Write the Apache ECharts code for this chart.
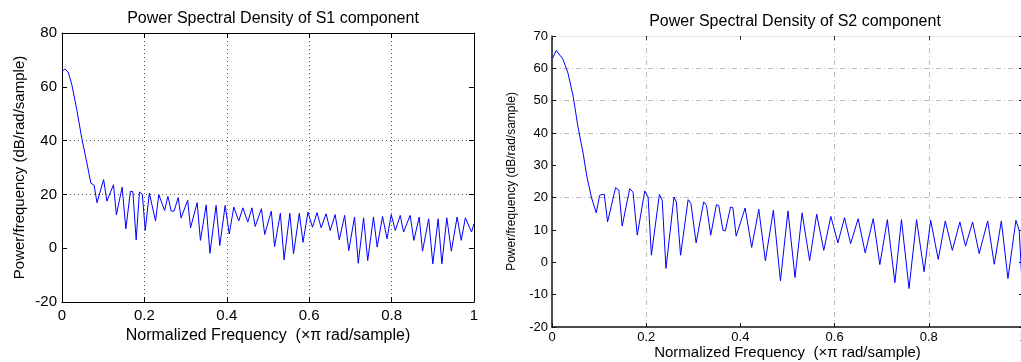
<!DOCTYPE html>
<html>
<head>
<meta charset="utf-8">
<script src="https://cdn.jsdelivr.net/npm/echarts@6/dist/echarts.min.js"></script>
<style>
html,body{margin:0;padding:0;background:#fff;}
#c{width:1021px;height:362px;}
</style>
</head>
<body>
<div id="c"></div>
<script>
// ---- data ----
const titles = ['Power Spectral Density of S1 component', 'Power Spectral Density of S2 component'];
const xName = 'Normalized Frequency  (\u00d7\u03c0 rad/sample)';
const yName = 'Power/frequency (dB/rad/sample)';

const s1Freq = [0, 0.007, 0.015, 0.024, 0.036, 0.048, 0.060, 0.070, 0.078, 0.085, 0.101, 0.109, 0.125, 0.132, 0.146, 0.155, 0.166, 0.172, 0.180, 0.188, 0.195, 0.202, 0.212, 0.227, 0.235, 0.249, 0.257, 0.265, 0.272, 0.282, 0.289, 0.305, 0.312, 0.328, 0.336, 0.350, 0.359, 0.374, 0.383, 0.396, 0.406, 0.417, 0.429, 0.439, 0.451, 0.461, 0.469, 0.484, 0.492, 0.508, 0.516, 0.530, 0.539, 0.553, 0.562, 0.576, 0.585, 0.597, 0.608, 0.619, 0.629, 0.641, 0.651, 0.663, 0.673, 0.686, 0.696, 0.710, 0.719, 0.732, 0.742, 0.756, 0.765, 0.778, 0.789, 0.799, 0.809, 0.821, 0.829, 0.845, 0.854, 0.867, 0.875, 0.890, 0.900, 0.913, 0.922, 0.934, 0.945, 0.959, 0.969, 0.979, 0.994, 1.0];
const s1Power = [65.6, 66.6, 65.5, 60.7, 51.4, 40.9, 32.0, 24.2, 23.4, 16.9, 25.5, 17.5, 23.6, 12.4, 22.7, 7.2, 21.2, 21.0, 3.1, 20.9, 20.0, 6.6, 20.5, 10.1, 19.9, 14.0, 19.3, 13.8, 13.8, 18.8, 11.2, 17.8, 7.6, 16.9, 2.9, 16.1, -1.9, 15.9, 1.0, 15.9, 5.3, 15.3, 10.1, 15.0, 9.7, 15.0, 8.1, 14.7, 5.1, 13.8, 0.6, 13.0, -4.3, 13.0, -2.1, 13.0, 2.2, 13.4, 7.8, 13.2, 7.6, 12.8, 6.6, 12.5, 3.1, 12.2, -0.9, 11.6, -5.6, 11.3, -4.6, 11.6, 0.4, 11.8, 3.5, 12.5, 6.6, 12.2, 6.0, 12.2, 2.9, 11.6, -1.1, 10.9, -5.8, 10.9, -5.8, 11.3, -1.1, 11.6, 2.9, 11.3, 6.0, 9.1];

const s2Freq = [0.001, 0.009, 0.023, 0.034, 0.045, 0.055, 0.066, 0.074, 0.084, 0.094, 0.101, 0.106, 0.111, 0.118, 0.135, 0.142, 0.149, 0.165, 0.172, 0.181, 0.197, 0.204, 0.211, 0.228, 0.234, 0.242, 0.259, 0.264, 0.273, 0.289, 0.295, 0.306, 0.322, 0.328, 0.337, 0.349, 0.354, 0.363, 0.368, 0.379, 0.384, 0.391, 0.410, 0.424, 0.439, 0.453, 0.470, 0.485, 0.501, 0.516, 0.531, 0.547, 0.562, 0.577, 0.592, 0.607, 0.621, 0.634, 0.650, 0.665, 0.682, 0.696, 0.712, 0.728, 0.742, 0.758, 0.774, 0.790, 0.804, 0.820, 0.835, 0.850, 0.866, 0.878, 0.893, 0.907, 0.925, 0.939, 0.954, 0.968, 0.985, 0.992, 0.997];
const s2Power = [63.1, 65.5, 62.9, 58.5, 51.3, 42.0, 33.8, 26.6, 19.9, 15.3, 20.7, 21.0, 21.0, 12.5, 23.1, 22.3, 11.2, 22.8, 21.7, 8.4, 22.1, 20.2, 2.2, 21.0, 19.2, -1.9, 20.2, 18.7, 2.2, 19.4, 18.2, 6.0, 18.7, 17.6, 8.4, 17.8, 17.6, 9.9, 9.7, 17.1, 16.9, 8.1, 16.8, 4.6, 16.4, 0.5, 16.1, -5.7, 15.9, -4.7, 15.3, 0.5, 14.9, 3.7, 14.2, 6.0, 13.8, 5.8, 13.5, 2.9, 13.5, -0.7, 13.2, -6.3, 13.2, -8.1, 13.2, -2.9, 13.0, 0.9, 12.8, 3.7, 12.5, 5.0, 12.5, 2.7, 12.8, -0.6, 12.8, -5.0, 13.0, 9.9, -4.0];

const xTicks = { min: 0, max: 1, interval: 0.2 };
const y1Ticks = { min: -20, max: 80, interval: 20 };
const y2Ticks = { min: -20, max: 70, interval: 10 };

// ---- styling ----
const FONT = 'Liberation Sans, Arial, Helvetica, sans-serif';
const T = 'rgba(0,0,0,0)';
const g1 = '#555';
const g2 = '#bdbdbd';

function pairs(xs, ys) { return xs.map((x, i) => [x, ys[i]]); }

const chart = echarts.init(document.getElementById('c'), null, { renderer: 'canvas' });

const option = {
  backgroundColor: '#fff',
  animation: false,
  title: [
    { text: titles[0], left: 268, top: 6, textAlign: 'center',
      textStyle: { fontFamily: FONT, fontSize: 16, fontWeight: 'normal', color: '#000' } },
    { text: titles[1], left: 790, top: 9, textAlign: 'center',
      textStyle: { fontFamily: FONT, fontSize: 16, fontWeight: 'normal', color: '#000' } }
  ],
  grid: [
    { left: 62, top: 33, width: 412, height: 269, containLabel: false, outerBoundsMode: 'none' },
    { left: 552, top: 36, width: 471, height: 291, containLabel: false, outerBoundsMode: 'none' }
  ],
  xAxis: [
    { type: 'value', gridIndex: 0, position: 'bottom', min: xTicks.min, max: xTicks.max, interval: xTicks.interval,
      name: xName, nameLocation: 'middle', nameGap: 25,
      nameTextStyle: { fontFamily: FONT, fontSize: 16, color: '#000' },
      axisLine: { show: true, onZero: false, lineStyle: { color: '#000', width: 1 } },
      axisTick: { show: true, inside: true, length: 5, lineStyle: { color: '#000' } },
      axisLabel: { fontFamily: FONT, fontSize: 15, color: '#000', margin: 6 },
      splitLine: { show: true, lineStyle: { color: [T, g1, g1, g1, g1, T], type: [1, 3], width: 1 } } },
    { type: 'value', gridIndex: 0, position: 'top', min: xTicks.min, max: xTicks.max, interval: xTicks.interval,
      axisLine: { show: true, onZero: false, lineStyle: { color: '#000', width: 1 } },
      axisTick: { show: true, inside: true, length: 5, lineStyle: { color: '#000' } },
      axisLabel: { show: false }, splitLine: { show: false } },
    { type: 'value', gridIndex: 1, position: 'bottom', min: xTicks.min, max: xTicks.max, interval: xTicks.interval,
      name: xName, nameLocation: 'middle', nameGap: 18, nameMoveOverlap: false,
      nameTextStyle: { fontFamily: FONT, fontSize: 15, color: '#000' },
      axisLine: { show: true, onZero: false, lineStyle: { color: '#111', width: 1.5 } },
      axisTick: { show: true, inside: true, length: 4, lineStyle: { color: '#111' } },
      axisLabel: { fontFamily: FONT, fontSize: 13, color: '#000', margin: 4 },
      splitLine: { show: true, lineStyle: { color: [T, g2, T, g2, g2, T], type: [5, 3, 1, 3], width: 1 } } },
    { type: 'value', gridIndex: 1, position: 'top', min: xTicks.min, max: xTicks.max, interval: xTicks.interval,
      axisLine: { show: true, onZero: false, lineStyle: { color: '#e6e6e6', width: 1 } },
      axisTick: { show: true, inside: true, length: 4, lineStyle: { color: '#333' } },
      axisLabel: { show: false }, splitLine: { show: false } }
  ],
  yAxis: [
    { type: 'value', gridIndex: 0, position: 'left', min: y1Ticks.min, max: y1Ticks.max, interval: y1Ticks.interval,
      name: yName, nameLocation: 'middle', nameGap: 35, nameRotate: 90,
      nameTextStyle: { fontFamily: FONT, fontSize: 15, color: '#000' },
      axisLine: { show: true, onZero: false, lineStyle: { color: '#000', width: 1 } },
      axisTick: { show: true, inside: true, length: 5, lineStyle: { color: '#000' } },
      axisLabel: { fontFamily: FONT, fontSize: 15, color: '#000', margin: 5 },
      splitLine: { show: true, lineStyle: { color: [T, T, g1, g1, T, T], type: [1, 3], width: 1 } } },
    { type: 'value', gridIndex: 0, position: 'right', min: y1Ticks.min, max: y1Ticks.max, interval: y1Ticks.interval,
      axisLine: { show: true, onZero: false, lineStyle: { color: '#000', width: 1 } },
      axisTick: { show: true, inside: true, length: 5, lineStyle: { color: '#000' } },
      axisLabel: { show: false }, splitLine: { show: false } },
    { type: 'value', gridIndex: 1, position: 'left', min: y2Ticks.min, max: y2Ticks.max, interval: y2Ticks.interval,
      name: yName, nameLocation: 'middle', nameGap: 34, nameRotate: 90,
      nameTextStyle: { fontFamily: FONT, fontSize: 12, color: '#000' },
      axisLine: { show: true, onZero: false, lineStyle: { color: '#111', width: 1.5 } },
      axisTick: { show: true, inside: true, length: 4, lineStyle: { color: '#111' } },
      axisLabel: { fontFamily: FONT, fontSize: 13, color: '#000', margin: 4 },
      splitLine: { show: true, lineStyle: { color: [T, T, T, T, g2, T, g2, g2, g2, T], type: [5, 3, 1, 3], width: 1 } } },
    { type: 'value', gridIndex: 1, position: 'right', min: y2Ticks.min, max: y2Ticks.max, interval: y2Ticks.interval,
      axisLine: { show: true, onZero: false, lineStyle: { color: '#111', width: 1 } },
      axisTick: { show: true, inside: true, length: 4, lineStyle: { color: '#111' } },
      axisLabel: { show: false }, splitLine: { show: false } }
  ],
  series: [
    { type: 'line', xAxisIndex: 0, yAxisIndex: 0, data: pairs(s1Freq, s1Power),
      showSymbol: false, symbol: 'none', smooth: false,
      lineStyle: { color: '#0000ff', width: 1 }, silent: true },
    { type: 'line', xAxisIndex: 2, yAxisIndex: 2, data: pairs(s2Freq, s2Power),
      showSymbol: false, symbol: 'none', smooth: false,
      lineStyle: { color: '#0000ff', width: 1 }, silent: true }
  ]
};
chart.setOption(option);
</script>
</body>
</html>
